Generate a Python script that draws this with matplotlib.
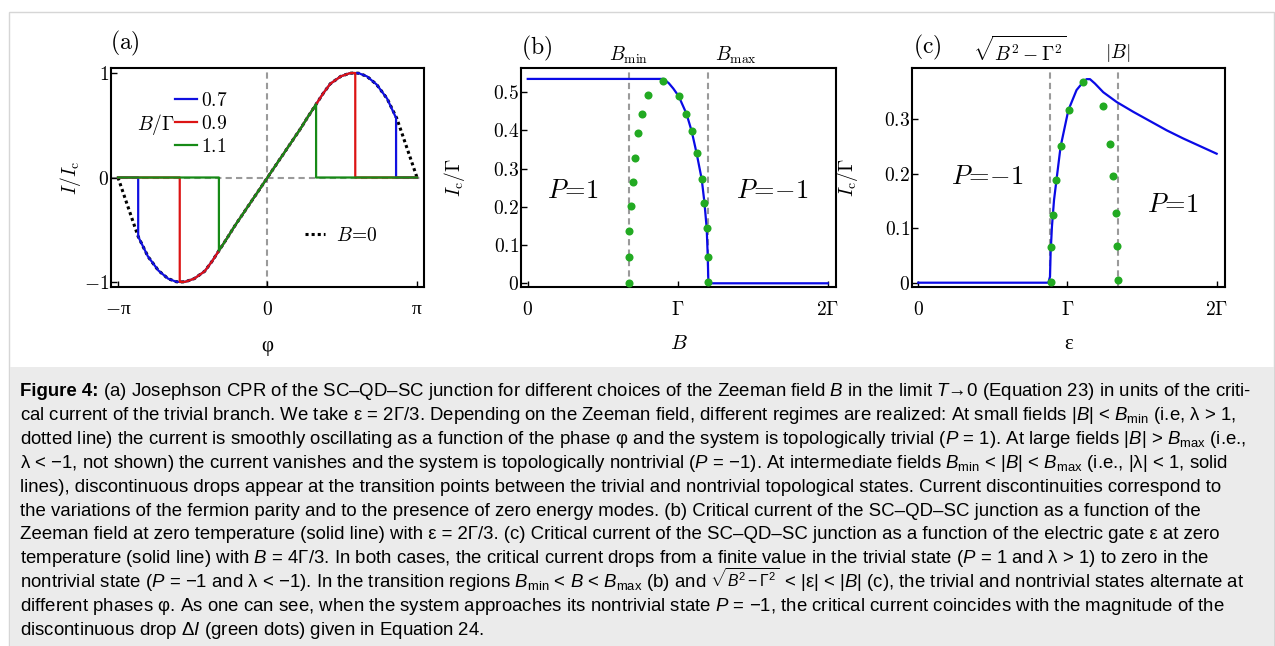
import matplotlib
matplotlib.use('Agg')
import matplotlib.pyplot as plt
from matplotlib.lines import Line2D
from matplotlib.patches import Rectangle
import numpy as np

plt.rcParams['font.family'] = 'Liberation Serif'
plt.rcParams['mathtext.fontset'] = 'cm'
# the caption uses the "custom" math fonts (sans, like the journal text)
plt.rcParams['mathtext.rm'] = 'Liberation Sans'
plt.rcParams['mathtext.it'] = 'Liberation Sans:italic'
plt.rcParams['mathtext.bf'] = 'Liberation Sans:bold'

# ---- (a) current-phase relation, phase in units of pi, current in units of I_c
phi_b0 = [-1.0, -0.95, -0.90, -0.865, -0.80, -0.73, -0.665, -0.61, -0.58, -0.55,
          -0.49, -0.42, -0.37, -0.322, -0.27, -0.222, -0.17, -0.111, -0.055, 0.0,
          0.055, 0.111, 0.17, 0.222, 0.27, 0.322, 0.37, 0.42, 0.49, 0.55,
          0.58, 0.61, 0.665, 0.73, 0.80, 0.865, 0.90, 0.95, 1.0]
cur_b0 = [0.0, -0.21, -0.42, -0.565, -0.755, -0.89, -0.968, -0.998, -1.0, -0.998,
          -0.968, -0.897, -0.80, -0.694, -0.58, -0.47, -0.36, -0.235, -0.117, 0.0,
          0.117, 0.235, 0.36, 0.47, 0.58, 0.694, 0.80, 0.897, 0.968, 0.998,
          1.0, 0.998, 0.968, 0.89, 0.755, 0.565, 0.42, 0.21, 0.0]

b_labels = ['0.7', '0.9', '1.1']
b_colors = ['#1010e0', '#dc1414', '#168a16']
jump_lo_phi = [-0.865, -0.587, -0.325]
jump_lo_cur = [-0.565, -1.0, -0.70]
jump_hi_phi = [0.86, 0.587, 0.325]
jump_hi_cur = [0.57, 1.0, 0.70]

# ---- (b) critical current vs Zeeman field
b_field = [0.0, 0.904, 0.94, 0.97, 1.006, 1.058, 1.093, 1.126, 1.160, 1.178,
           1.193, 1.200, 1.204, 1.207, 2.0]
ic_b = [0.535, 0.535, 0.524, 0.51, 0.490, 0.444, 0.398, 0.340, 0.272, 0.211,
        0.144, 0.070, 0.004, 0.0, 0.0]
dot_b_field = [0.673, 0.673, 0.678, 0.686, 0.700, 0.715, 0.738, 0.764, 0.804, 0.904,
               1.006, 1.058, 1.093, 1.126, 1.160, 1.178, 1.193, 1.200, 1.204]
dot_b_ic = [0.0, 0.068, 0.138, 0.202, 0.266, 0.329, 0.393, 0.442, 0.492, 0.530,
            0.490, 0.444, 0.398, 0.340, 0.272, 0.211, 0.144, 0.070, 0.004]
b_min, b_max = 0.673, 1.204

# ---- (c) critical current vs gate
eps = [0.0, 0.872, 0.883, 0.887, 0.896, 0.910, 0.927, 0.954, 1.006, 1.061, 1.106,
       1.128, 1.151, 1.184, 1.240, 1.330, 1.441, 1.553, 1.665, 1.776, 1.888, 2.0]
ic_c = [0.0, 0.0, 0.011, 0.054, 0.103, 0.152, 0.190, 0.250, 0.317, 0.354, 0.369,
        0.374, 0.374, 0.366, 0.350, 0.332, 0.314, 0.297, 0.280, 0.265, 0.251, 0.237]
dot_eps = [0.887, 0.889, 0.901, 0.923, 0.956, 1.010, 1.106, 1.236, 1.285, 1.307,
           1.323, 1.332, 1.336]
dot_ic_c = [0.002, 0.066, 0.125, 0.188, 0.252, 0.318, 0.368, 0.324, 0.255, 0.196,
            0.128, 0.068, 0.005]
eps_lo, eps_hi = 0.882, 1.338

# caption, one list of (text, size factor) pieces per printed line
caption_lines = [
    [('Figure 4:', 'bold'),
     (r' (a) Josephson CPR of the SC–QD–SC junction for different choices of the Zeeman field $B$ in the limit $T$→0 (Equation 23) in units of the criti-', 1.0)],
    [(r'cal current of the trivial branch. We take ε = 2Γ/3. Depending on the Zeeman field, different regimes are realized: At small fields |$B$| < $B_{\mathrm{min}}$ (i.e, λ > 1,', 1.0)],
    [(r'dotted line) the current is smoothly oscillating as a function of the phase φ and the system is topologically trivial ($P$ = 1). At large fields |$B$| > $B_{\mathrm{max}}$ (i.e.,', 1.0)],
    [(r'λ < −1, not shown) the current vanishes and the system is topologically nontrivial ($P$ = −1). At intermediate fields $B_{\mathrm{min}}$ < |$B$| < $B_{\mathrm{max}}$ (i.e., |λ| < 1, solid', 1.0)],
    [('lines), discontinuous drops appear at the transition points between the trivial and nontrivial topological states. Current discontinuities correspond to', 1.0)],
    [('the variations of the fermion parity and to the presence of zero energy modes. (b) Critical current of the SC–QD–SC junction as a function of the', 1.0)],
    [('Zeeman field at zero temperature (solid line) with ε = 2Γ/3. (c) Critical current of the SC–QD–SC junction as a function of the electric gate ε at zero', 1.0)],
    [(r'temperature (solid line) with $B$ = 4Γ/3. In both cases, the critical current drops from a finite value in the trivial state ($P$ = 1 and λ > 1) to zero in the', 1.0)],
    [(r'nontrivial state ($P$ = −1 and λ < −1). In the transition regions $B_{\mathrm{min}}$ < $B$ < $B_{\mathrm{max}}$ (b) and', 1.0),
     (r' $\sqrt{B^2-\Gamma^2}$', 0.85),
     (r' < |ε| < |$B$| (c), the trivial and nontrivial states alternate at', 1.0)],
    [(r'different phases φ. As one can see, when the system approaches its nontrivial state $P$ = −1, the critical current coincides with the magnitude of the', 1.0)],
    [(r'discontinuous drop Δ$I$ (green dots) given in Equation 24.', 1.0)],
]

W, H = 1275, 646
fig = plt.figure(figsize=(W / 100, H / 100), dpi=100)

# frame and caption background
fig.patches.append(Rectangle((9 / W, 0), (1274 - 9) / W, 1 - 12 / H, transform=fig.transFigure,
                             facecolor='white', edgecolor='#d6d6d6', lw=1, zorder=-20))
fig.patches.append(Rectangle((9.5 / W, 0), (1273.5 - 9.5) / W, 1 - 367 / H, transform=fig.transFigure,
                             facecolor='#ebebeb', edgecolor='none', zorder=-19))


def px_axes(x0, y0, x1, y1):
    return fig.add_axes([x0 / W, 1 - y1 / H, (x1 - x0) / W, (y1 - y0) / H])


def style(ax):
    ax.patch.set_alpha(0)
    for s in ax.spines.values():
        s.set_linewidth(1.5)
    ax.tick_params(direction='in', length=4, width=1, labelsize=14)
    ax.tick_params(axis='x', pad=10)
    ax.tick_params(axis='y', pad=1.5)


gray = '#9a9a9a'
dash = (0, (3, 2))

# ----- panel (a)
ax1 = px_axes(111, 68, 424, 287)
style(ax1)
ax1.axhline(0, color=gray, lw=1.5, ls=dash, zorder=1)
ax1.axvline(0, color=gray, lw=1.5, ls=dash, zorder=1)
phi0 = np.array(phi_b0)
cur0 = np.array(cur_b0)
ax1.plot(phi0 * np.pi, cur0, color='black', lw=2.2, ls=(0, (1, 1)), zorder=2)
for k in range(3):
    inside = (phi0 > jump_lo_phi[k]) & (phi0 < jump_hi_phi[k])
    xs = [-1.0, jump_lo_phi[k], jump_lo_phi[k]] + list(phi0[inside]) + [jump_hi_phi[k], jump_hi_phi[k], 1.0]
    ys = [0.0, 0.0, jump_lo_cur[k]] + list(cur0[inside]) + [jump_hi_cur[k], 0.0, 0.0]
    ax1.plot(np.array(xs) * np.pi, ys, color=b_colors[k], lw=1.6, zorder=3 + k)
ax1.set_xlim(-np.pi - 0.147, np.pi + 0.147)
ax1.set_ylim(-1.048, 1.048)
ax1.set_xticks([-np.pi, 0, np.pi])
ax1.set_xticklabels([r'$-$π', r'$0$', 'π'])
ax1.set_yticks([-1, 0, 1])
ax1.set_yticklabels([r'$-1$', r'$0$', r'$1$'])
ax1.set_xlabel('φ', fontsize=15)
ax1.xaxis.set_label_coords(0.5, -0.228)
ax1.set_ylabel(r'$I/I_{\mathrm{c}}$', fontsize=14)
ax1.yaxis.set_label_coords(-0.089, 0.5)
ax1.text(0.045, 1.11, r'$\mathrm{(a)}$', transform=ax1.transAxes, fontsize=17, ha='center', va='center')

handles = [Line2D([], [], color=c, lw=1.6) for c in b_colors]
leg = ax1.legend(handles, [r'$%s$' % s for s in b_labels], loc='upper left',
                 bbox_to_anchor=(0.205, 0.89), frameon=False, fontsize=14,
                 handlelength=1.1, handletextpad=0.25, labelspacing=0.25,
                 borderpad=0, borderaxespad=0)
ax1.add_artist(leg)
ax1.text(0.142, 0.744, r'$B/\Gamma$', transform=ax1.transAxes, fontsize=14, ha='center', va='center')
ax1.legend([Line2D([], [], color='black', lw=2.2, ls=(0, (1, 1)))], [r'$B\!=\!0$'],
           loc='center left', bbox_to_anchor=(0.62, 0.233), frameon=False, fontsize=14,
           handlelength=1.0, handletextpad=0.6, borderpad=0, borderaxespad=0)

# ----- panel (b)
ax2 = px_axes(521, 68, 836, 287)
style(ax2)
for xv in (b_min, b_max):
    ax2.axvline(xv, color=gray, lw=1.5, ls=dash, zorder=1)
ax2.plot(b_field, ic_b, color='#0a0ae6', lw=1.6, zorder=2)
ax2.plot(dot_b_field, dot_b_ic, 'o', color='#22aa22', ms=5.8, mec='none', zorder=3)
ax2.set_xlim(-0.045, 2.055)
ax2.set_ylim(-0.0097, 0.5636)
ax2.set_xticks([0, 1, 2])
ax2.set_xticklabels([r'$0$', r'$\Gamma$', r'$2\Gamma$'])
ax2.set_yticks([0, 0.1, 0.2, 0.3, 0.4, 0.5])
ax2.set_yticklabels([r'$0$', r'$0.1$', r'$0.2$', r'$0.3$', r'$0.4$', r'$0.5$'])
ax2.set_xlabel(r'$B$', fontsize=15)
ax2.xaxis.set_label_coords(0.5, -0.219)
ax2.set_ylabel(r'$I_{\mathrm{c}}/\Gamma$', fontsize=14)
ax2.yaxis.set_label_coords(-0.171, 0.5)
ax2.text(0.051, 1.091, r'$\mathrm{(b)}$', transform=ax2.transAxes, fontsize=17, ha='center', va='center')
tb = ax2.get_xaxis_transform()
ax2.text(b_min, 1.059, r'$B_{\mathrm{min}}$', transform=tb, fontsize=14, ha='center', va='center')
ax2.text(1.387, 1.059, r'$B_{\mathrm{max}}$', transform=tb, fontsize=14, ha='center', va='center')
ax2.text(0.165, 0.434, r'$P\!=\!1$', transform=ax2.transAxes, fontsize=19, ha='center', va='center')
ax2.text(0.797, 0.434, r'$P\!=\!{-}1$', transform=ax2.transAxes, fontsize=19, ha='center', va='center')

# ----- panel (c)
ax3 = px_axes(912, 68, 1225, 287)
style(ax3)
for xv in (eps_lo, eps_hi):
    ax3.axvline(xv, color=gray, lw=1.5, ls=dash, zorder=1)
ax3.plot(eps, ic_c, color='#0a0ae6', lw=1.6, zorder=2)
ax3.plot(dot_eps, dot_ic_c, 'o', color='#22aa22', ms=5.8, mec='none', zorder=3)
ax3.set_xlim(-0.042, 2.056)
ax3.set_ylim(-0.0079, 0.3945)
ax3.set_xticks([0, 1, 2])
ax3.set_xticklabels([r'$0$', r'$\Gamma$', r'$2\Gamma$'])
ax3.set_yticks([0, 0.1, 0.2, 0.3])
ax3.set_yticklabels([r'$0$', r'$0.1$', r'$0.2$', r'$0.3$'])
ax3.set_xlabel('ε', fontsize=15)
ax3.xaxis.set_label_coords(0.5, -0.219)
ax3.set_ylabel(r'$I_{\mathrm{c}}/\Gamma$', fontsize=14)
ax3.yaxis.set_label_coords(-0.166, 0.5)
ax3.text(0.048, 1.096, r'$\mathrm{(c)}$', transform=ax3.transAxes, fontsize=17, ha='center', va='center')
tc = ax3.get_xaxis_transform()
ax3.text(0.68, 1.082, r'$\sqrt{B^2-\Gamma^2}$', transform=tc, fontsize=14, ha='center', va='center')
ax3.text(eps_hi, 1.068, r'$|B|$', transform=tc, fontsize=14, ha='center', va='center')
ax3.text(0.240, 0.502, r'$P\!=\!{-}1$', transform=ax3.transAxes, fontsize=19, ha='center', va='center')
ax3.text(0.834, 0.374, r'$P\!=\!1$', transform=ax3.transAxes, fontsize=19, ha='center', va='center')

# ----- caption, laid out piece by piece
cap_size = 13.4
cap_font = ['Liberation Sans', 'DejaVu Sans']
x0 = 20
base0 = 396
step = 23.9
renderer = fig.canvas.get_renderer()
for i, pieces in enumerate(caption_lines):
    x = x0
    y = 1 - (base0 + i * step) / H
    for text, size in pieces:
        if size == 'bold':
            t = fig.text(x / W, y, text, fontsize=cap_size, family=cap_font,
                         weight='bold', va='baseline', ha='left')
        else:
            t = fig.text(x / W, y, text, fontsize=cap_size * size, family=cap_font,
                         math_fontfamily='custom', va='baseline', ha='left')
        x = t.get_window_extent(renderer).x1

fig.savefig('out.png', dpi=100)
